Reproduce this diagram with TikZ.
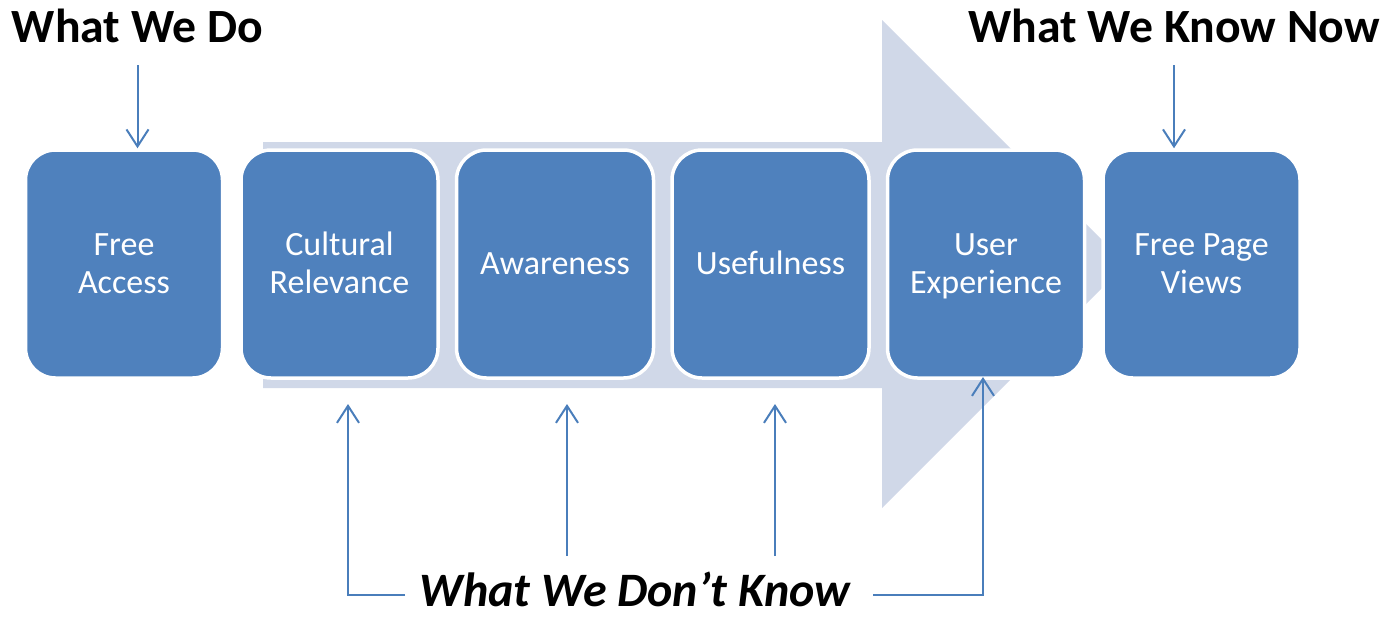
\documentclass[tikz,border=0pt]{standalone}
\usepackage{fontspec}
\setmainfont{Carlito}
\usetikzlibrary{arrows.meta}
\definecolor{boxblue}{HTML}{4F81BD}
\definecolor{bandgray}{HTML}{D0D8E8}
\definecolor{linkblue}{HTML}{4A7EBB}
% line strut for the stage labels: fixed height and depth on every line
\newcommand{\stagestrut}{\rule[-8.4pt]{0pt}{38pt}}
\begin{document}
\begin{tikzpicture}[x=1pt,y=-1pt,
  stagebox/.style={rectangle, rounded corners=30pt, fill=boxblue, draw=white,
    line width=3.5pt, minimum width=197pt, minimum height=228pt, text=white,
    align=center, font=\fontsize{34}{38}\selectfont},
  heading/.style={anchor=base, inner sep=0pt, font=\fontsize{47.7}{50}\selectfont\bfseries},
  conn/.style={draw=linkblue, line width=2pt,
    -{Straight Barb[length=17pt,width=22pt,line width=2pt]}}]
\useasboundingbox (0,0) rectangle (1395,616);

% broad background process arrow
\fill[bandgray] (263,142) -- (882,142) -- (882,20) -- (1126,264)
  -- (882,508) -- (882,388) -- (263,388) -- cycle;

% stages
\node[stagebox] (free) at (124,264) {\stagestrut Free\\\stagestrut Access};
\node[stagebox] (cult) at (339.5,264) {\stagestrut Cultural\\\stagestrut Relevance};
\node[stagebox] (aware) at (555,264) {\stagestrut Awareness};
\node[stagebox] (useful) at (770.5,264) {\stagestrut Usefulness};
\node[stagebox] (ux) at (986,264) {\stagestrut User\\\stagestrut Experience};
\node[stagebox] (views) at (1201.5,264) {\stagestrut Free Page\\\stagestrut Views};

% headings
\node[heading] (wedo) at (137.5,42) {What We Do};
\node[heading] (weknow) at (1174,42) {What We Know Now};
\node[heading, font=\fontsize{48}{50}\selectfont\bfseries\itshape] (dontknow) at (635,606) {What We Don’t Know};

% top pointers
\coordinate (wedoStart) at (137.5,65);
\coordinate (weknowStart) at (1174,65);
\draw[conn] (wedoStart) -- (wedoStart |- free.north);
\draw[conn] (weknowStart) -- (weknowStart |- views.north);

% bottom pointers
\coordinate (dkLeft) at (405,595);
\coordinate (dkRight) at (873,595);
\coordinate (cultCorner) at (348,595);
\coordinate (cultTip) at (348,404);
\coordinate (awareStart) at (567,556);
\coordinate (awareTip) at (567,404);
\coordinate (usefulStart) at (775,556);
\coordinate (usefulTip) at (775,404);
\coordinate (uxCorner) at (983,595);
\coordinate (uxTip) at (983,377);
\draw[conn] (dkLeft) -- (cultCorner) -- (cultTip);
\draw[conn] (awareStart) -- (awareTip);
\draw[conn] (usefulStart) -- (usefulTip);
\draw[conn] (dkRight) -- (uxCorner) -- (uxTip);
\end{tikzpicture}
\end{document}
